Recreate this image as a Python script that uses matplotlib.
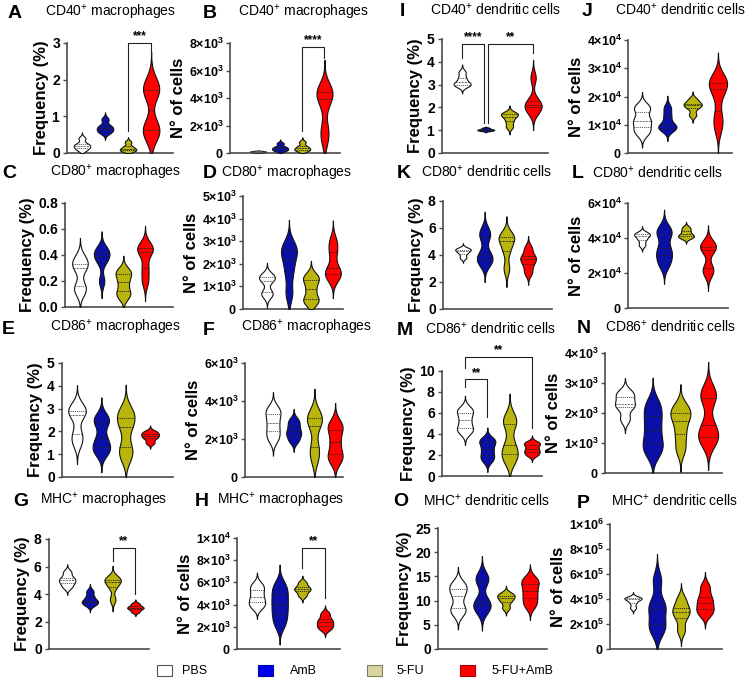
import numpy as np
import matplotlib
matplotlib.use('Agg')
import matplotlib.pyplot as plt
from matplotlib.patches import Rectangle

plt.rcParams['font.family'] = ['Liberation Sans', 'DejaVu Sans']
plt.rcParams['mathtext.fontset'] = 'custom'
plt.rcParams['mathtext.rm'] = 'Liberation Sans'
plt.rcParams['mathtext.bf'] = 'Liberation Sans:bold'
plt.rcParams['mathtext.it'] = 'Liberation Sans:italic'

# ---------------- data ----------------
groups = ['PBS', 'AmB', '5-FU', '5-FU+AmB']
violin_colors = ['#ffffff', '#0a0fa6', '#b9b50d', '#ff0000']
legend_face = ['#ffffff', '#0000f0', '#d8d69e', '#ff0000']
legend_edge = ['#555555', '#0000a0', '#808060', '#a00000']

A_cd40_mac_freq = [[0.08, 0.15, 0.2, 0.25, 0.4], [0.55, 0.62, 0.68, 0.75, 0.92],
                   [0.05, 0.08, 0.12, 0.18, 0.3], [0.5, 0.6, 0.75, 1.6, 1.75, 1.9]]
B_cd40_mac_num = [[50, 80, 100, 120, 150], [150, 250, 350, 450, 700],
                  [150, 250, 350, 500, 800], [1000, 1800, 3600, 4200, 4500, 4700]]
C_cd80_mac_freq = [[0.12, 0.16, 0.3, 0.33, 0.38], [0.2, 0.35, 0.39, 0.42, 0.45],
                   [0.08, 0.12, 0.19, 0.25, 0.28], [0.2, 0.3, 0.42, 0.45, 0.47]]
D_cd80_mac_num = [[600, 750, 1250, 1400, 1500], [700, 1600, 2200, 2600, 2800],
                  [300, 450, 900, 1300, 1450], [1400, 1550, 1800, 2500, 3000]]
E_cd86_mac_freq = [[1.5, 1.9, 2.7, 2.9, 3.1], [1.1, 1.3, 1.7, 2.4, 2.6],
                   [0.9, 1.3, 2.2, 2.6, 2.9], [1.5, 1.7, 1.8, 1.9, 2.0]]
F_cd86_mac_num = [[2000, 2400, 2850, 3300, 3600], [1900, 2200, 2400, 2700, 3000],
                  [1000, 1600, 2700, 3100, 3300], [900, 1200, 1850, 2500, 2800]]
G_mhc_mac_freq = [[4.5, 4.8, 5.0, 5.2, 5.6], [3.2, 3.4, 3.5, 3.8, 4.2],
                  [3.6, 4.5, 4.9, 5.0, 5.2], [2.7, 2.9, 3.0, 3.1, 3.3]]
H_mhc_mac_num = [[3800, 4200, 4700, 5300, 5800], [2200, 3000, 3700, 4400, 5100, 5800],
                 [4800, 5200, 5400, 5600, 6000], [1800, 2100, 2400, 2700, 3200]]
I_cd40_dc_freq = [[2.95, 3.0, 3.1, 3.3, 3.55], [0.97, 1.0, 1.02, 1.05, 1.1],
                  [1.15, 1.4, 1.6, 1.7, 1.75], [1.8, 2.0, 2.1, 2.3, 3.3]]
J_cd40_dc_num = [[7000, 8500, 11000, 12000, 15500, 16500], [8500, 9000, 10000, 13000, 16000],
                 [13500, 16000, 17000, 17500, 19000], [9000, 13000, 20500, 24500, 25000, 26000]]
K_cd80_dc_freq = [[3.8, 4.1, 4.3, 4.4, 4.5], [3.4, 3.7, 4.1, 5.3, 5.8],
                  [3.0, 4.3, 5.0, 5.3, 5.5], [2.7, 3.3, 3.7, 3.9, 4.5]]
L_cd80_dc_num = [[36000, 39000, 41000, 42000, 43000], [25000, 30000, 34000, 42000, 45000],
                 [40000, 41000, 42000, 44000, 46000], [20000, 23000, 33000, 35000, 37000]]
M_cd86_dc_freq = [[4.2, 4.6, 5.3, 6.0, 6.4], [1.5, 2.0, 2.6, 3.2, 3.5],
                  [1.6, 2.1, 3.0, 5.0, 5.5], [2.0, 2.3, 2.6, 3.0, 3.2]]
N_cd86_dc_num = [[1800, 2200, 2300, 2550, 2700], [700, 1000, 1450, 1900, 2300],
                 [800, 1300, 1750, 2000, 2200], [1100, 1200, 1600, 2500, 2700]]
O_mhc_dc_freq = [[7.5, 8.5, 11, 12.5, 13.5], [8, 9, 10, 14, 15],
                 [8.5, 9.8, 10.5, 11, 11.5], [9, 10.5, 12, 13.5, 14.5]]
P_mhc_dc_num = [[330000, 370000, 400000, 405000, 410000], [150000, 200000, 320000, 360000, 550000],
                [150000, 250000, 300000, 330000, 400000], [280000, 320000, 370000, 420000, 500000]]

# y ticks per panel
A_ticks = [0, 1, 2, 3]
B_ticks = [0, 2e3, 4e3, 6e3, 8e3]
C_ticks = [0.0, 0.2, 0.4, 0.6, 0.8]
D_ticks = [0, 1e3, 2e3, 3e3, 4e3, 5e3]
E_ticks = [0, 1, 2, 3, 4, 5]
F_ticks = [0, 2e3, 4e3, 6e3]
G_ticks = [0, 2, 4, 6, 8]
H_ticks = [0, 2e3, 4e3, 6e3, 8e3, 1e4]
I_ticks = [0, 1, 2, 3, 4, 5]
J_ticks = [0, 1e4, 2e4, 3e4, 4e4]
K_ticks = [0, 2, 4, 6, 8]
L_ticks = [0, 2e4, 4e4, 6e4]
M_ticks = [0, 2, 4, 6, 8, 10]
N_ticks = [0, 1e3, 2e3, 3e3, 4e3]
O_ticks = [0, 5, 10, 15, 20, 25]
P_ticks = [0, 2e5, 4e5, 6e5, 8e5, 1e6]

# significance: (x1, x2, leg1, top, leg2, label)
A_sig = [(3, 4, 0.6, 3.0, 2.65, '***')]
B_sig = [(3, 4, 1.6e3, 7.7e3, 6.9e3, '****')]
G_sig = [(3, 4, 6.4, 7.35, 4.0, '**')]
H_sig = [(3, 4, 7.3e3, 9.1e3, 4.6e3, '**')]
I_sig = [(1, 1.93, 4.15, 4.8, 1.3, '****'), (2.1, 4, 1.3, 4.8, 4.4, '**')]
M_sig = [(1, 2, 8.5, 9.2, 5.6, '**'), (1, 4, 10.3, 11.3, 4.6, '**')]

FREQ = 'Frequency (%)'
NUM = 'N° of cells'

W, H = 750, 680
fig = plt.figure(figsize=(7.5, 6.8), dpi=100)


def px_rect(x0, y0, x1, y1):
    return [x0 / W, 1 - y1 / H, (x1 - x0) / W, (y1 - y0) / H]


def tick_label(v, kind):
    if v == 0:
        return r'$\mathbf{0}$' if kind != 'dec' else r'$\mathbf{0.0}$'
    if kind == 'int':
        return r'$\mathbf{%d}$' % v
    if kind == 'dec':
        return r'$\mathbf{%.1f}$' % v
    e = int(np.floor(np.log10(v) + 1e-9))
    m = int(round(v / 10 ** e))
    return r'$\mathbf{%d{\times}10^{%d}}$' % (m, e)


def violin(ax, pos, vals, color, half=0.36):
    v = np.asarray(vals, float)
    bw = 0.45 * np.std(v, ddof=1)
    lo = max(0.0, v.min() - 3.0 * bw)
    hi = v.max() + 3.0 * bw
    y = np.linspace(lo, hi, 300)
    d = np.exp(-0.5 * ((y[:, None] - v[None, :]) / bw) ** 2).sum(1)
    w = d / d.max() * half
    ax.fill_betweenx(y, pos - w, pos + w, facecolor=color, edgecolor='#111111', lw=0.8, zorder=3)
    q1, med, q3 = np.percentile(v, [25, 50, 75])
    lc = '#555555' if color == '#ffffff' else '#222222'
    for q, ls in ((q1, (0, (1.5, 1.0))), (med, (0, (2.5, 1.2))), (q3, (0, (1.5, 1.0)))):
        wq = np.interp(q, y, w)
        ax.plot([pos - wq, pos + wq], [q, q], color=lc, lw=0.6, ls=ls, zorder=4)


panels = [
    # letter, data, ticks, kind, ylabel, axes px rect, xlim, sig, title, title centre, letter pos
    ('A', A_cd40_mac_freq, A_ticks, 'int', FREQ, (67, 43, 173, 153), (0.35, 4.95), A_sig,
     r'CD40$^{+}$ macrophages', (111, 12), (8, 13)),
    ('B', B_cd40_mac_num, B_ticks, 'sci', NUM, (230, 43, 340, 153), (-0.26, 4.7), B_sig,
     r'CD40$^{+}$ macrophages', (304, 12), (203, 13)),
    ('I', I_cd40_dc_freq, I_ticks, 'int', FREQ, (442, 39, 548, 153), (0.15, 4.63), I_sig,
     r'CD40$^{+}$ dendritic cells', (496, 10), (400, 12)),
    ('J', J_cd40_dc_num, J_ticks, 'sci', NUM, (628, 40, 732, 153), (0.445, 4.555), [],
     r'CD40$^{+}$ dendritic cells', (681, 10), (582, 12)),
    ('C', C_cd80_mac_freq, C_ticks, 'dec', FREQ, (65, 203, 173, 307), (0.31, 5.29), [],
     r'CD80$^{+}$ macrophages', (116, 172), (2, 174)),
    ('D', D_cd80_mac_num, D_ticks, 'sci', NUM, (243, 196, 343, 309), (-0.09, 4.46), [],
     r'CD80$^{+}$ macrophages', (287, 173), (203, 174)),
    ('K', K_cd80_dc_freq, K_ticks, 'int', FREQ, (443, 201, 552, 309), (0.08, 5.1), [],
     r'CD80$^{+}$ dendritic cells', (487, 172), (397, 173)),
    ('L', L_cd80_dc_num, L_ticks, 'sci', NUM, (628, 203, 728, 308), (0.36, 4.91), [],
     r'CD80$^{+}$ dendritic cells', (658, 173), (572, 173)),
    ('E', E_cd86_mac_freq, E_ticks, 'int', FREQ, (62, 363, 173, 477), (0.385, 4.94), [],
     r'CD86$^{+}$ macrophages', (116, 327), (2, 329)),
    ('F', F_cd86_mac_num, F_ticks, 'sci', NUM, (245, 363, 343, 477), (-0.35, 4.38), [],
     r'CD86$^{+}$ macrophages', (307, 327), (203, 330)),
    ('M', M_cd86_dc_freq, M_ticks, 'int', FREQ, (442, 371, 542, 476), (-0.03, 4.45), M_sig,
     r'CD86$^{+}$ dendritic cells', (491, 329), (397, 330)),
    ('N', N_cd86_dc_num, N_ticks, 'sci', NUM, (605, 353, 722, 473), (0.28, 4.5), [],
     r'CD86$^{+}$ dendritic cells', (671, 327), (577, 328)),
    ('G', G_mhc_mac_freq, G_ticks, 'int', FREQ, (49, 539, 149, 649), (0.2, 4.6), G_sig,
     r'MHC$^{+}$ macrophages', (104, 500), (13, 502)),
    ('H', H_mhc_mac_num, H_ticks, 'sci', NUM, (237, 538, 340, 649), (0.12, 4.66), H_sig,
     r'MHC$^{+}$ macrophages', (281, 500), (195, 502)),
    ('O', O_mhc_dc_freq, O_ticks, 'int', FREQ, (438, 528, 547, 649), (0.17, 4.71), [],
     r'MHC$^{+}$ dendritic cells', (487, 501), (393, 502)),
    ('P', P_mhc_dc_num, P_ticks, 'sci', NUM, (610, 524, 722, 649), (0.04, 4.71), [],
     r'MHC$^{+}$ dendritic cells', (675, 501), (577, 503)),
]

spine_c = '#4a4a4a'
for (letter, data, ticks, kind, ylabel, rect, xlim, sig, title, tpos, lpos) in panels:
    ax = fig.add_axes(px_rect(*rect))
    for i, vals in enumerate(data):
        violin(ax, i + 1, vals, violin_colors[i])
    ax.set_xlim(*xlim)
    ax.set_ylim(0, ticks[-1])
    ax.set_yticks(ticks)
    ax.set_yticklabels([tick_label(t, kind) for t in ticks],
                       fontsize=9 if kind == 'sci' else 10)
    ax.set_xticks([])
    for s in ('top', 'right'):
        ax.spines[s].set_visible(False)
    for s in ('left', 'bottom'):
        ax.spines[s].set_color(spine_c)
        ax.spines[s].set_linewidth(1.2)
    ax.tick_params(axis='y', length=3, width=1.0, color=spine_c, pad=1.5)
    ax.set_ylabel(ylabel, fontsize=12, fontweight='bold', labelpad=2)
    for (x1, x2, l1, top, l2, lab) in sig:
        ax.plot([x1, x1, x2, x2], [l1, top, top, l2], color='#222222', lw=0.8,
                clip_on=False, zorder=5)
        ax.annotate(lab, ((x1 + x2) / 2, top), xytext=(0, 0.5), textcoords='offset points',
                    ha='center', va='bottom', fontsize=8.5, fontweight='bold', annotation_clip=False)
    fig.text(tpos[0] / W, 1 - tpos[1] / H, title, ha='center', va='center', fontsize=10)
    fig.text(lpos[0] / W, 1 - lpos[1] / H, letter, ha='left', va='center', fontsize=14,
             fontweight='bold')

# legend
box_x = [157, 258, 367, 460]
text_x = [182, 290, 397, 492]
for i, g in enumerate(groups):
    fig.add_artist(Rectangle((box_x[i] / W, 1 - 676 / H), 15 / W, 11 / H,
                             transform=fig.transFigure, facecolor=legend_face[i],
                             edgecolor=legend_edge[i], lw=0.8))
    fig.text(text_x[i] / W, 1 - 671 / H, g, ha='left', va='center', fontsize=9)

fig.savefig('out.png', dpi=100)
